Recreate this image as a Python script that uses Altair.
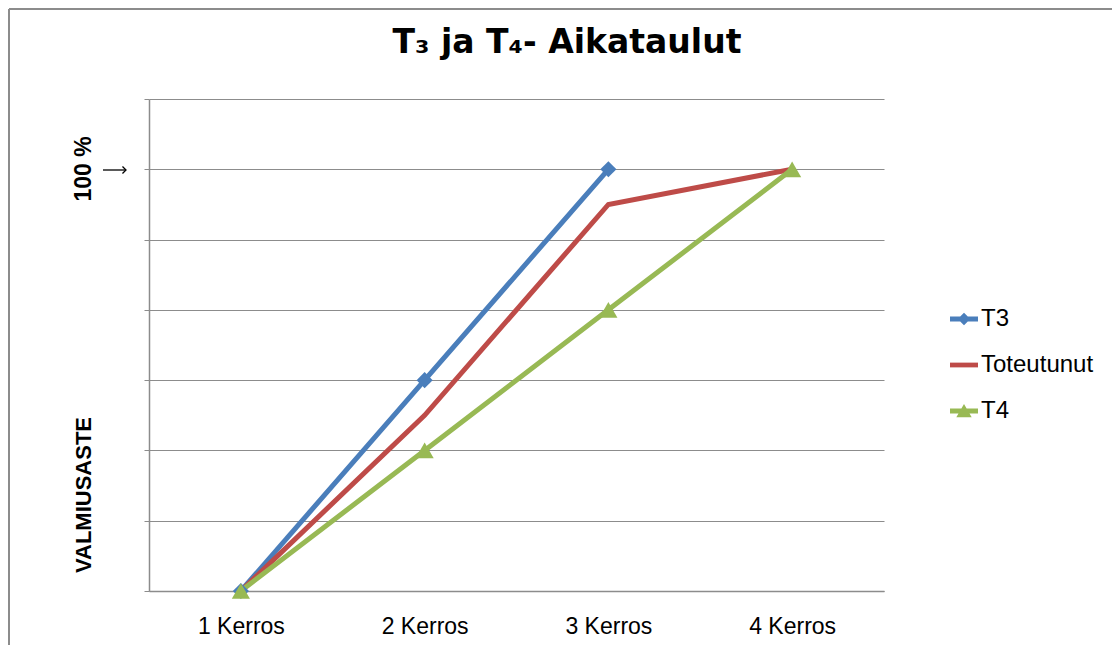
import altair as alt
import pandas as pd

categories = ["1 Kerros", "2 Kerros", "3 Kerros", "4 Kerros"]
series_names = ["T3", "Toteutunut", "T4"]
series_colors = ["#4a7ebb", "#be4b48", "#98b954"]
t3 = [0, 3, 6, None]
toteutunut = [0, 2.5, 5.5, 6]
t4 = [0, 2, 4, 6]

rows = []
for name, vals in zip(series_names, [t3, toteutunut, t4]):
    for i, (c, v) in enumerate(zip(categories, vals)):
        if v is not None:
            rows.append({"kerros": c, "series": name, "value": v, "order": i})
df = pd.DataFrame(rows)

W, H = 735, 492
PL, PT = 141, 91

x_enc = alt.X("kerros:O", sort=categories, scale=alt.Scale(padding=0.5),
              axis=alt.Axis(title=None, labelFontSize=23, labelColor="#000000",
                            labelFont="Liberation Sans", labelPadding=24, ticks=False,
                            domainColor="#8c8c8c", domainWidth=1.5, labelAngle=0))
y_enc = alt.Y("value:Q", scale=alt.Scale(domain=[0, 7], nice=False),
              axis=alt.Axis(title=None, labels=False, values=[0, 1, 2, 3, 4, 5, 6, 7],
                            grid=True, gridColor="#8c8c8c", gridWidth=1.2,
                            domainColor="#8c8c8c", domainWidth=1.5,
                            tickSize=5, tickColor="#8c8c8c"))

base = alt.Chart(df)

lines = base.mark_line(strokeWidth=5).encode(
    x=x_enc, y=y_enc,
    color=alt.Color("series:N", scale=alt.Scale(domain=series_names, range=series_colors),
                    legend=None),
    detail="series:N", order="order:Q",
)

diamonds = base.transform_filter(alt.datum.series == "T3").mark_point(
    shape="diamond", filled=True, size=260, opacity=1, color="#4a7ebb"
).encode(x=x_enc, y=y_enc)

triangles = base.transform_filter(alt.datum.series == "T4").mark_point(
    shape="triangle-up", filled=True, size=330, opacity=1, color="#98b954"
).encode(x=x_enc, y=y_enc)

shape_paths = [
    "M-1,-0.17L1,-0.17L1,0.17L-1,0.17Z M0,-0.45L0.45,0L0,0.45L-0.45,0Z",
    "M-1,-0.17L1,-0.17L1,0.17L-1,0.17Z",
    "M-1,-0.17L1,-0.17L1,0.17L-1,0.17Z M0,-0.5L0.55,0.45L-0.55,0.45Z",
]

leg = alt.Legend(title=None, orient="none", legendX=801, legendY=206,
                 labelFontSize=24, labelFont="Liberation Sans",
                 labelColor="#000000", symbolSize=784,
                 symbolStrokeWidth=0, rowPadding=20,
                 labelOffset=3, symbolOpacity=1)

legend_layer = base.transform_filter("false").mark_point(filled=True, opacity=1).encode(
    x=x_enc, y=y_enc,
    color=alt.Color("series:N", scale=alt.Scale(domain=series_names, range=series_colors),
                    legend=leg),
    shape=alt.Shape("series:N", scale=alt.Scale(domain=series_names, range=shape_paths),
                    legend=leg),
)

title = alt.Chart(pd.DataFrame({"tt": ["T₃ ja T₄- Aikataulut"]})).mark_text(
    fontSize=33, fontWeight="bold", font="DejaVu Sans", align="center", baseline="middle",
    color="#000000"
).encode(text="tt:N", x=alt.value(418), y=alt.value(-56))

lab100 = alt.Chart(pd.DataFrame({"pc": ["100 %"]})).mark_text(
    fontSize=23, fontWeight="bold", font="Liberation Sans", angle=270, align="center",
    baseline="middle", color="#000000"
).encode(text="pc:N", x=alt.value(-65), y=alt.value(70))

# arrow "→" drawn as a thin shaft plus an open head
arrow_shaft = alt.Chart(pd.DataFrame({"a": [0]})).mark_rule(color="#000000", strokeWidth=1.3).encode(
    x=alt.value(-46), x2=alt.value(-23), y=alt.value(71))
arrow_head = alt.Chart(pd.DataFrame({"a": [0]})).mark_point(
    shape="M-1,-1L0,0L-1,1", filled=False, stroke="#000000", strokeWidth=1.3, size=50, opacity=1
).encode(x=alt.value(-23), y=alt.value(71))

valm = alt.Chart(pd.DataFrame({"vm": ["VALMIUSASTE"]})).mark_text(
    fontSize=22, fontWeight="bold", font="Liberation Sans", angle=270, align="center",
    baseline="middle", color="#000000"
).encode(text="vm:N", x=alt.value(-65), y=alt.value(396))

border_left = alt.Chart(pd.DataFrame({"a": [0]})).mark_rule(color="#8c8c8c", strokeWidth=2).encode(
    x=alt.value(-140), y=alt.value(-90), y2=alt.value(620))
border_top = alt.Chart(pd.DataFrame({"a": [0]})).mark_rule(color="#8c8c8c", strokeWidth=2).encode(
    x=alt.value(-140), x2=alt.value(990), y=alt.value(-90))

chart = alt.layer(
    border_left, border_top, lines, diamonds, triangles, legend_layer,
    title, arrow_shaft, arrow_head, lab100, valm
).resolve_scale(
    color="independent", shape="independent"
).properties(
    width=W, height=H,
    autosize=alt.AutoSizeParams(type="none"),
    padding={"left": PL, "top": PT, "right": 228, "bottom": 54},
    background="white",
).configure_view(stroke=None)

chart.save("out.html", embed_options={"renderer": "svg", "actions": False})
